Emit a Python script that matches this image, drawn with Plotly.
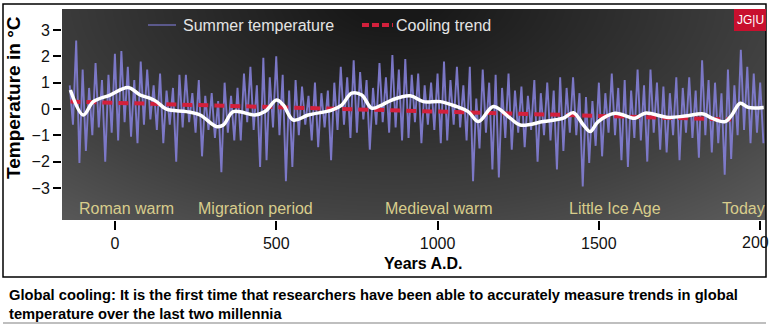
import plotly.graph_objects as go

# ---------------- data ----------------
summer_years = list(range(-140, 2011, 10))
summer_temp = [
    0.9, -0.6, 2.6, -2.05,   1.5, -1.6, 0.8, -1.0,    1.75, -0.7, 1.1, -2.0,
    1.3, -0.9, 2.1, -1.2,    2.2, -0.5, 1.6, -1.05,   1.1, -1.3, 1.8, -0.6,
    1.5, -0.4, 0.9, -0.8,    1.35, -1.3, 0.7, -0.6,   0.8, -2.0, 1.3, -0.7,
    1.3, -0.5, 0.6, -0.9,    1.1, -1.8, 0.5, -0.8,    0.6, -1.1, 0.3, -2.4,
    1.0, -0.9, 0.5, -1.2,    0.8, -1.2, 1.35, -0.5,   1.6, -0.8, 0.9, -2.2,
    1.95, -1.95, 1.2, -0.7,  2.0, -1.0, 1.3, -2.75,   0.7, -2.2, 1.1, -1.0,
    0.85, -0.6, 0.5, -1.2,   1.0, -1.45, 0.6, -0.7,   0.7, -1.95, 1.0, -0.8,
    1.6, -0.6, 1.2, -1.1,    1.85, -0.9, 1.4, -0.4,   1.1, -1.55, 0.8, -0.6,
    1.75, -0.5, 1.2, -0.9,   2.05, -0.7, 1.5, -1.2,   1.9, -1.1, 1.3, -0.5,
    1.35, -1.3, 0.9, -0.6,   1.0, -0.8, 1.35, -1.3,   1.8, -1.2, 1.1, -0.6,
    1.6, -0.7, 0.9, -1.2,    1.6, -2.75, 0.4, -1.5,   1.5, -0.9, 1.0, -2.3,
    1.3, -2.6, 0.8, -1.1,    1.35, -1.55, 0.7, -0.9,  0.85, -1.45, 0.5, -0.8,
    1.1, -2.0, 0.6, -1.0,    1.0, -1.2, 0.7, -2.3,    1.2, -1.6, 0.8, -0.9,
    1.2, -1.0, 0.6, -2.95,   0.45, -2.05, 0.3, -1.4,  1.0, -1.8, 0.6, -0.9,
    1.35, -1.0, 0.8, -1.95,  1.1, -2.2, 0.7, -1.1,    1.5, -1.2, 0.9, -2.0,
    1.5, -0.9, 1.0, -1.55,   0.85, -1.65, 0.6, -1.0,  1.2, -1.95, 0.8, -0.9,
    1.2, -1.1, 0.7, -1.85,   1.85, -1.0, 1.1, -1.65,  1.0, -1.3, 0.6, -2.5,
    1.5, -1.9, 0.9, -1.0,    2.25, -0.8, 1.6, -1.3,   1.35, -0.9, 1.0, -1.3,
]

smooth_years = [-138, -98, -67, -15, 41, 78, 108, 129, 160, 222, 264, 315, 336,
                367, 434, 465, 501, 522, 553, 599, 672, 703, 734, 765, 796, 827,
                858, 915, 956, 1008, 1059, 1095, 1127, 1173, 1225, 1256, 1328,
                1390, 1421, 1452, 1473, 1498, 1550, 1612, 1643, 1715, 1767, 1824,
                1850, 1891, 1912, 1938, 1963, 2011]
smooth_temp = [0.72, -0.23, 0.28, 0.53, 0.82, 0.53, 0.41, 0.28, -0.01, -0.1,
               -0.23, -0.67, -0.61, -0.1, -0.23, -0.1, 0.34, 0.15, -0.42, -0.23,
               -0.04, 0.15, 0.6, 0.53, 0.03, 0.15, 0.34, 0.5, 0.28, 0.28, 0.09,
               -0.1, -0.48, 0.09, -0.35, -0.61, -0.48, -0.35, -0.14, -0.61, -0.86,
               -0.48, -0.16, -0.35, -0.16, -0.32, -0.27, -0.19, -0.35, -0.48,
               -0.23, 0.22, 0.06, 0.06]

trend_years = [-138, 1910]
trend_temp = [0.28, -0.40]

x_ticks = [0, 500, 1000, 1500]
x_edge_tick = 2000          # last tick, its label is cut by the frame
y_ticks = [-3, -2, -1, 0, 1, 2, 3]

era_labels = ["Roman warm", "Migration period", "Medieval warm", "Little Ice Age", "Today"]
era_years = [-118, 250, 831, 1401, 1875]

caption = ("Global cooling: It is the first time that researchers have been able to accurately measure trends in global<br>"
           "temperature over the last two millennia")

# ---------------- layout geometry ----------------
W, H = 769, 325
PL, PR, PT, PB = 62, 766, 9, 220
X_RANGE = [-164, 2018]
Y_RANGE = [-4.22, 3.80]
FONT = "Arial, Liberation Sans, Helvetica, sans-serif"


def px(x):
    return (x - PL) / (PR - PL)


def py(y):
    return (PB - y) / (PB - PT)


# background vignette (decoration only)
nx, ny = 41, 25
gx = [X_RANGE[0] + (X_RANGE[1] - X_RANGE[0]) * i / (nx - 1) for i in range(nx)]
gy = [Y_RANGE[0] + (Y_RANGE[1] - Y_RANGE[0]) * j / (ny - 1) for j in range(ny)]
gz = []
for j in range(ny):
    v = j / (ny - 1)
    row = []
    for i in range(nx):
        u = i / (nx - 1)
        d = (((u - 0.47) / 0.62) ** 2 + ((v - 1.05) / 1.1) ** 2) ** 0.5
        row.append(min(d, 1.25))
    gz.append(row)

fig = go.Figure()
fig.add_trace(go.Heatmap(
    x=gx, y=gy, z=gz, zsmooth="best", showscale=False, hoverinfo="skip",
    colorscale=[[0, "#181818"], [0.4, "#303030"], [0.7, "#424242"], [1, "#5a5a5a"]],
    zmin=0.1, zmax=1.25,
))
fig.add_trace(go.Scatter(
    x=summer_years, y=summer_temp, mode="lines",
    line=dict(color="rgba(130,126,212,0.92)", width=1.9),
    hoverinfo="skip", showlegend=False,
))
fig.add_trace(go.Scatter(
    x=trend_years, y=trend_temp, mode="lines",
    line=dict(color="#d3203c", width=4, dash="10px,6px"),
    showlegend=False,
))
fig.add_trace(go.Scatter(
    x=smooth_years, y=smooth_temp, mode="lines",
    line=dict(color="white", width=3.5, shape="spline", smoothing=1.0),
    showlegend=False,
))

shapes = [
    # outer frame
    dict(type="rect", xref="paper", yref="paper", x0=px(3), x1=px(766), y0=py(277), y1=py(4),
         line=dict(color="black", width=1.5), layer="above"),
    # bottom grey rule
    dict(type="line", xref="paper", yref="paper", x0=px(3), x1=px(766), y0=py(323), y1=py(323),
         line=dict(color="#aaaaaa", width=1.5)),
    # legend symbols
    dict(type="line", xref="paper", yref="paper", x0=px(148), x1=px(176), y0=py(25), y1=py(25),
         line=dict(color="rgba(120,116,200,0.6)", width=2)),
    dict(type="line", xref="paper", yref="paper", x0=px(362), x1=px(393), y0=py(25), y1=py(25),
         line=dict(color="#d3203c", width=4, dash="7px,3px")),
    # JGU logo box
    dict(type="rect", xref="paper", yref="paper", x0=px(734), x1=px(766), y0=py(31), y1=py(9),
         fillcolor="#c8102e", line=dict(width=0)),
]

annotations = [
    dict(text="Summer temperature", x=px(181), y=py(25), xref="paper", yref="paper",
         xanchor="left", yanchor="middle", showarrow=False,
         font=dict(family=FONT, size=16, color="#e4e4e4")),
    dict(text="Cooling trend", x=px(394), y=py(25), xref="paper", yref="paper",
         xanchor="left", yanchor="middle", showarrow=False,
         font=dict(family=FONT, size=16, color="#e4e4e4")),
    dict(text="JG|U", x=px(750), y=py(20), xref="paper", yref="paper",
         xanchor="center", yanchor="middle", showarrow=False,
         font=dict(family=FONT, size=12, color="white")),
    dict(text=str(x_edge_tick), x=x_edge_tick, y=py(243), xref="x", yref="paper",
         xanchor="center", yanchor="middle", showarrow=False,
         font=dict(family=FONT, size=16, color="#111111")),
    dict(text="<b>Years A.D.</b>", x=px(423), y=py(263), xref="paper", yref="paper",
         xanchor="center", yanchor="middle", showarrow=False,
         font=dict(family=FONT, size=16, color="black")),
    dict(text="<b>Temperature in °C</b>", x=px(13), y=py(98), xref="paper", yref="paper",
         xanchor="center", yanchor="middle", showarrow=False, textangle=-90,
         font=dict(family=FONT, size=19, color="black")),
    dict(text="<b>" + caption + "</b>", x=px(7), y=py(304), xref="paper", yref="paper",
         xanchor="left", yanchor="middle", align="left", showarrow=False,
         font=dict(family=FONT, size=14.7, color="black")),
]
for lab, yr in zip(era_labels, era_years):
    annotations.append(dict(
        text=lab, x=yr, y=-3.8, xref="x", yref="y", xanchor="left", yanchor="middle",
        showarrow=False, font=dict(family=FONT, size=16, color="#d8cd8c")))

fig.update_layout(
    width=W, height=H,
    margin=dict(l=PL, r=W - PR, t=PT, b=H - PB, pad=0),
    paper_bgcolor="white", plot_bgcolor="#333333",
    shapes=shapes, annotations=annotations, showlegend=False,
    xaxis=dict(range=X_RANGE, tickvals=x_ticks + [x_edge_tick], ticktext=[str(t) for t in x_ticks] + [""],
               ticks="outside", ticklen=9, tickwidth=2,
               tickcolor="black", showgrid=False, zeroline=False, showline=False,
               tickfont=dict(family=FONT, size=16, color="#111111")),
    yaxis=dict(range=Y_RANGE, tickvals=y_ticks, ticks="outside", ticklen=8, tickwidth=2,
               tickcolor="black", showgrid=False, zeroline=False, showline=False,
               tickfont=dict(family=FONT, size=16, color="#111111")),
)

fig.write_html("out.html")
